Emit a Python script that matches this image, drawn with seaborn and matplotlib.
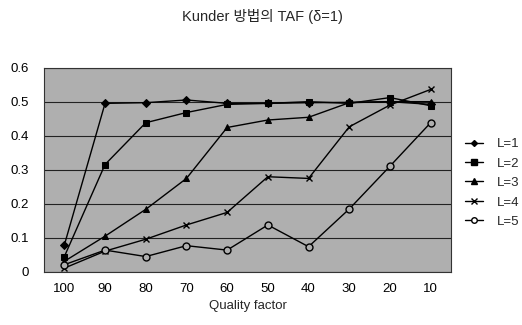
import matplotlib
matplotlib.use("Agg")
import matplotlib.pyplot as plt
import seaborn as sns
import pandas as pd
from matplotlib.lines import Line2D

quality = ["100", "90", "80", "70", "60", "50", "40", "30", "20", "10"]
L1 = [0.078, 0.495, 0.497, 0.505, 0.495, 0.495, 0.497, 0.498, 0.500, 0.492]
L2 = [0.044, 0.315, 0.438, 0.468, 0.492, 0.495, 0.500, 0.495, 0.512, 0.488]
L3 = [0.030, 0.104, 0.183, 0.274, 0.424, 0.446, 0.454, 0.497, 0.500, 0.500]
L4 = [0.010, 0.060, 0.095, 0.137, 0.174, 0.279, 0.274, 0.426, 0.490, 0.536]
L5 = [0.020, 0.063, 0.044, 0.076, 0.063, 0.137, 0.073, 0.184, 0.310, 0.438]
series_names = ["L=1", "L=2", "L=3", "L=4", "L=5"]
series_vals = [L1, L2, L3, L4, L5]
markers = ["D", "s", "^", "x", "o"]
msizes = [4, 5, 5, 5, 5]

rows = []
for name, vals in zip(series_names, series_vals):
    for q, v in zip(quality, vals):
        rows.append({"Quality factor": q, "TAF": v, "L": name})
df = pd.DataFrame(rows)

sns.set_style("white")
plt.rcParams["font.family"] = ["Liberation Sans", "DejaVu Sans"]

BG = "#afafaf"
fig = plt.figure(figsize=(5.22, 3.25), dpi=100)
ax = fig.add_axes([44 / 522, 1 - 271.5 / 325, 407 / 522, (271.5 - 67.7) / 325])
ax.set_facecolor(BG)

sns.pointplot(data=df, x="Quality factor", y="TAF", hue="L", order=quality,
              hue_order=series_names, palette=["black"] * 5, markers=markers,
              linestyles="-", markersize=4.5, linewidth=1.0, ax=ax, legend=False,
              zorder=3)

lines = [l for l in ax.lines if len(l.get_xdata()) == len(quality)]
for ln, m, ms in zip(lines, markers, msizes):
    ln.set_marker(m)
    ln.set_markersize(ms)
    ln.set_markeredgecolor("black")
    if m == "o":
        ln.set_markerfacecolor(BG)
        ln.set_markeredgewidth(1.0)
    if m == "x":
        ln.set_markeredgewidth(1.0)

ax.set_ylim(0, 0.6)
ax.set_xlim(-0.5, len(quality) - 0.5)
ax.set_yticks([0, 0.1, 0.2, 0.3, 0.4, 0.5, 0.6])
ax.set_yticklabels(["0", "0.1", "0.2", "0.3", "0.4", "0.5", "0.6"])
ax.yaxis.grid(True, color="#222222", linewidth=0.8)
ax.set_axisbelow(True)
ax.tick_params(axis="both", length=0, labelsize=9.5, colors="black")
ax.tick_params(axis="y", pad=11)
ax.tick_params(axis="x", pad=8)
ax.set_xlabel("Quality factor", fontsize=9.5, labelpad=4)
ax.set_ylabel("")
for s in ax.spines.values():
    s.set_color("#333333")
    s.set_linewidth(0.8)

handles = []
for name, m, ms in zip(series_names, markers, msizes):
    handles.append(Line2D([0], [0], color="black", marker=m, markersize=ms - 1,
                          markerfacecolor="white" if m == "o" else "black",
                          markeredgecolor="black", linewidth=1.0))
fig.legend(handles, series_names, loc="center left",
           bbox_to_anchor=(465 / 522, 1 - 183 / 325), frameon=False,
           borderaxespad=0, borderpad=0,
           fontsize=9.5, handlelength=1.4, handletextpad=1.0, labelspacing=0.55)

fig.text(262 / 522, 1 - 17 / 325, "Kunder 방법의 TAF (δ=1)", ha="center", va="center",
         fontsize=10.5, family=["Liberation Sans", "Noto Sans CJK KR", "DejaVu Sans"])

fig.savefig("out.png", dpi=100)
